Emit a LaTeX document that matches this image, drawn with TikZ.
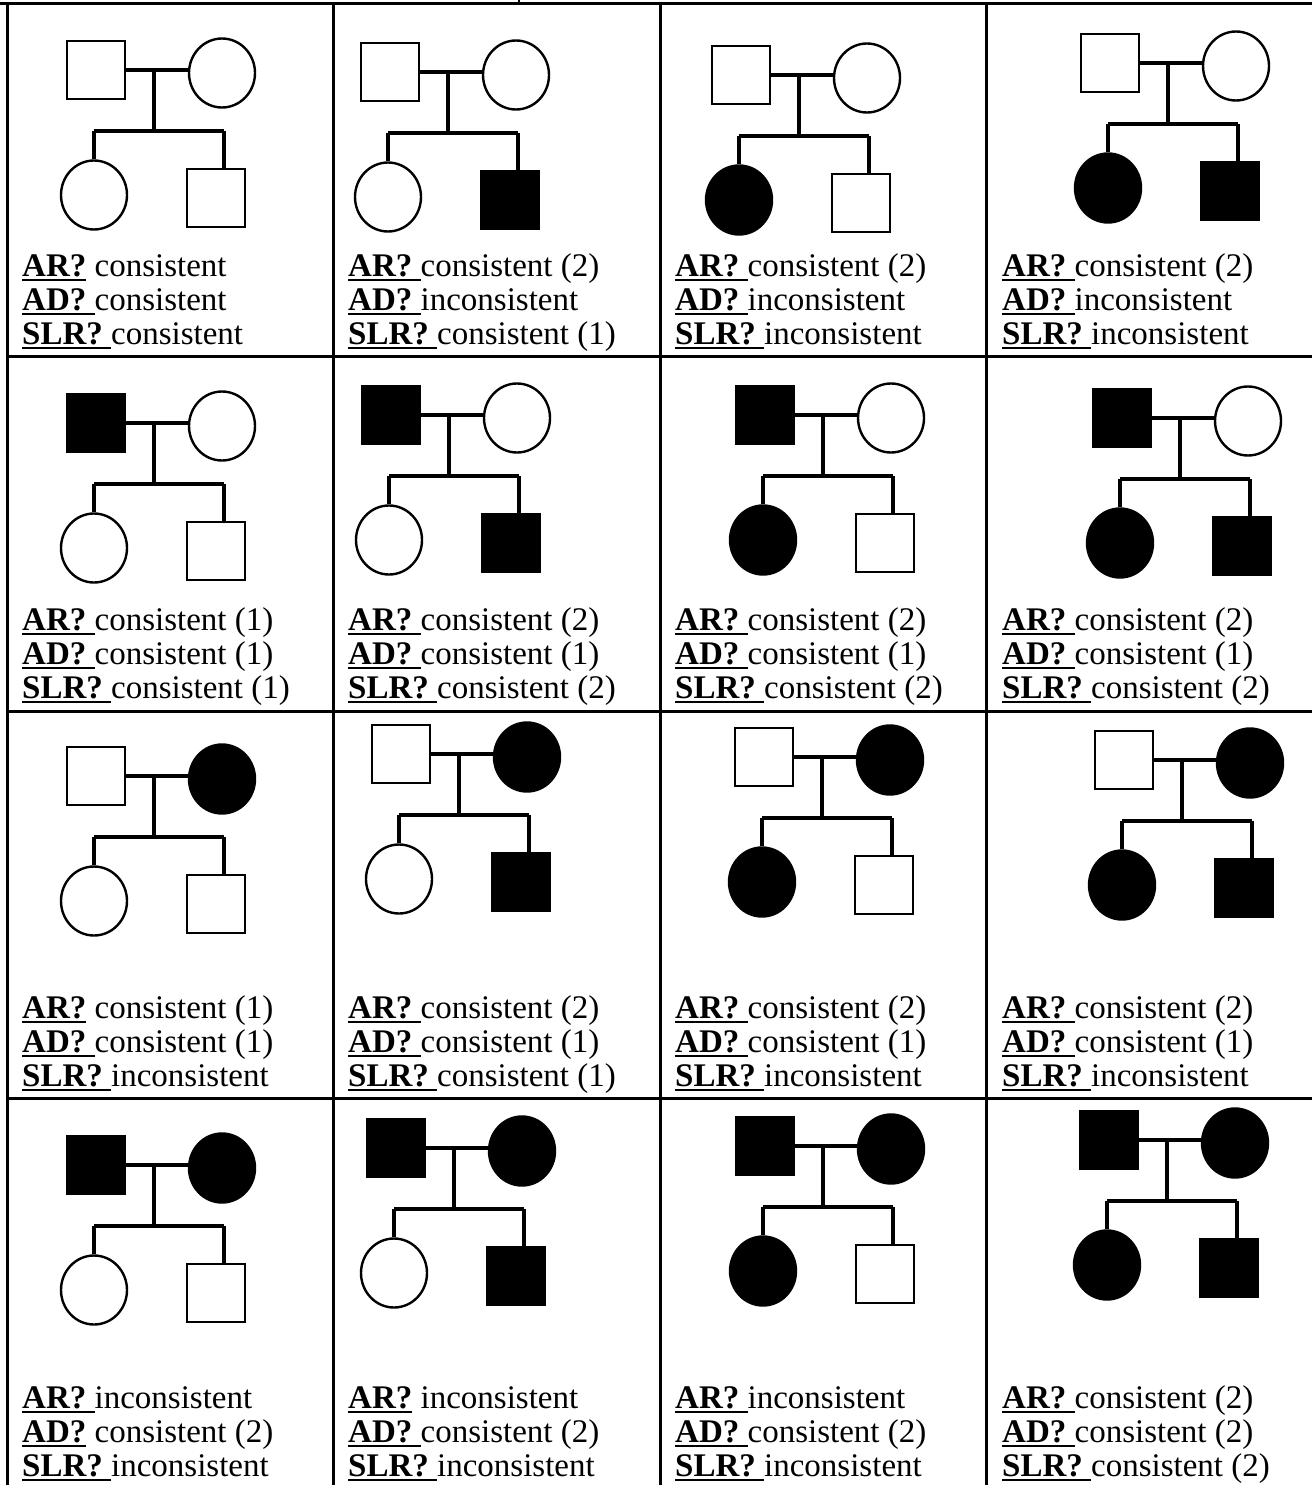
\documentclass[tikz,border=0pt]{standalone}
\usepackage{fontspec}
\setmainfont{Liberation Serif}
\usetikzlibrary{shapes.geometric}
\newcommand\lbA[1]{\setbox0\hbox{\textbf{#1}}\rlap{\rule[-5pt]{\wd0}{1.8pt}}\box0\ }
\newcommand\lbB[1]{\setbox0\hbox{\textbf{#1}\ }\rlap{\rule[-5pt]{\wd0}{1.8pt}}\box0}
\newcommand\pedi[7]{%
 \node[sqr,fill=#4] (#1F) at ({#2+30},{#3+30}) {};
 \node[crc,fill=#5] (#1M) at ({#2+156},{#3+33}) {};
 \node[crc,fill=#6] (#1D) at ({#2+28},{#3+155}) {};
 \node[sqr,fill=#7] (#1S) at ({#2+150},{#3+158}) {};
 \coordinate (#1T) at ({#2+88},{#3+30});
 \coordinate (#1B) at ({#2+88},{#3+91});
 \coordinate (#1L) at ({#2+28},{#3+91});
 \coordinate (#1R) at ({#2+158},{#3+91});
 \draw[pline] (#1F.east) -- (#1F.east -| #1M.west);
 \draw[pline] (#1T) -- (#1B);
 \draw[pline] (#1L) -- (#1R);
 \draw[pline] (#1L) -- (#1D.north);
 \draw[pline] (#1R) -- (#1R |- #1S.north);
}
\newcommand\celltext[6]{%
 \node[txt] (#1a) at (#2,{#3-68}) {#4};
 \node[txt] (#1b) at (#2,{#3-34}) {#5};
 \node[txt] (#1c) at (#2,#3) {#6};
}
\begin{document}
\begin{tikzpicture}[x=1pt,y=-1pt,
 sqr/.style={draw,line width=2.6pt,minimum size=58pt,inner sep=0pt,rectangle},
 crc/.style={draw,line width=2.4pt,ellipse,minimum width=66pt,minimum height=69pt,inner sep=0pt},
 pline/.style={line width=3.2pt},
 grid/.style={line width=3pt},
 txt/.style={anchor=base west,inner sep=0pt,font=\fontsize{33}{34}\selectfont}]
\useasboundingbox (0,0) rectangle (1312,1485);
% grid
\draw[grid] (0,4) -- (1312,4);
\draw[grid] (7,4) -- (7,1485);
\draw[grid] (333,4) -- (333,1485);
\draw[grid] (660,4) -- (660,1485);
\draw[grid] (986,4) -- (986,1485);
\draw[grid] (7,356) -- (1312,356);
\draw[grid] (7,711) -- (1312,711);
\draw[grid] (7,1098) -- (1312,1098);
\draw[line width=1.5pt] (519,0) -- (519,3);
% pedigrees: id, fx, fy, father, mother, daughter, son
\pedi{a}{66}{40}{white}{white}{white}{white}
\pedi{b}{360}{42}{white}{white}{white}{black}
\pedi{c}{711}{45}{white}{white}{black}{white}
\pedi{d}{1080}{33}{white}{white}{black}{black}
\pedi{e}{66}{393}{black}{white}{white}{white}
\pedi{f}{361}{385}{black}{white}{white}{black}
\pedi{g}{735}{385}{black}{white}{black}{white}
\pedi{h}{1092}{388}{black}{white}{black}{black}
\pedi{i}{66}{746}{white}{black}{white}{white}
\pedi{j}{371}{724}{white}{black}{white}{black}
\pedi{k}{734}{727}{white}{black}{black}{white}
\pedi{l}{1094}{730}{white}{black}{black}{black}
\pedi{m}{66}{1135}{black}{black}{white}{white}
\pedi{n}{366}{1118}{black}{black}{white}{black}
\pedi{o}{735}{1116}{black}{black}{black}{white}
\pedi{p}{1079}{1110}{black}{black}{black}{black}
% texts
\celltext{ta}{22}{344}{\lbA{AR?}consistent}{\lbB{AD?}consistent}{\lbB{SLR?}consistent}
\celltext{tb}{348}{344}{\lbB{AR?}consistent (2)}{\lbB{AD?}inconsistent}{\lbB{SLR?}consistent (1)}
\celltext{tc}{675}{344}{\lbB{AR?}consistent (2)}{\lbB{AD?}inconsistent}{\lbB{SLR?}inconsistent}
\celltext{td}{1002}{344}{\lbB{AR?}consistent (2)}{\lbB{AD?}inconsistent}{\lbB{SLR?}inconsistent}
\celltext{te}{22}{698}{\lbB{AR?}consistent (1)}{\lbB{AD?}consistent (1)}{\lbB{SLR?}consistent (1)}
\celltext{tf}{348}{698}{\lbB{AR?}consistent (2)}{\lbB{AD?}consistent (1)}{\lbB{SLR?}consistent (2)}
\celltext{tg}{675}{698}{\lbB{AR?}consistent (2)}{\lbB{AD?}consistent (1)}{\lbB{SLR?}consistent (2)}
\celltext{th}{1002}{698}{\lbB{AR?}consistent (2)}{\lbB{AD?}consistent (1)}{\lbB{SLR?}consistent (2)}
\celltext{ti}{22}{1086}{\lbA{AR?}consistent (1)}{\lbB{AD?}consistent (1)}{\lbB{SLR?}inconsistent}
\celltext{tj}{348}{1086}{\lbB{AR?}consistent (2)}{\lbB{AD?}consistent (1)}{\lbB{SLR?}consistent (1)}
\celltext{tk}{675}{1086}{\lbB{AR?}consistent (2)}{\lbB{AD?}consistent (1)}{\lbB{SLR?}inconsistent}
\celltext{tl}{1002}{1086}{\lbB{AR?}consistent (2)}{\lbB{AD?}consistent (1)}{\lbB{SLR?}inconsistent}
\celltext{tm}{22}{1476}{\lbB{AR?}inconsistent}{\lbA{AD?}consistent (2)}{\lbB{SLR?}inconsistent}
\celltext{tn}{348}{1476}{\lbA{AR?}inconsistent}{\lbB{AD?}consistent (2)}{\lbB{SLR?}inconsistent}
\celltext{to}{675}{1476}{\lbB{AR?}inconsistent}{\lbB{AD?}consistent (2)}{\lbB{SLR?}inconsistent}
\celltext{tp}{1002}{1476}{\lbB{AR?}consistent (2)}{\lbB{AD?}consistent (2)}{\lbB{SLR?}consistent (2)}
\end{tikzpicture}
\end{document}
